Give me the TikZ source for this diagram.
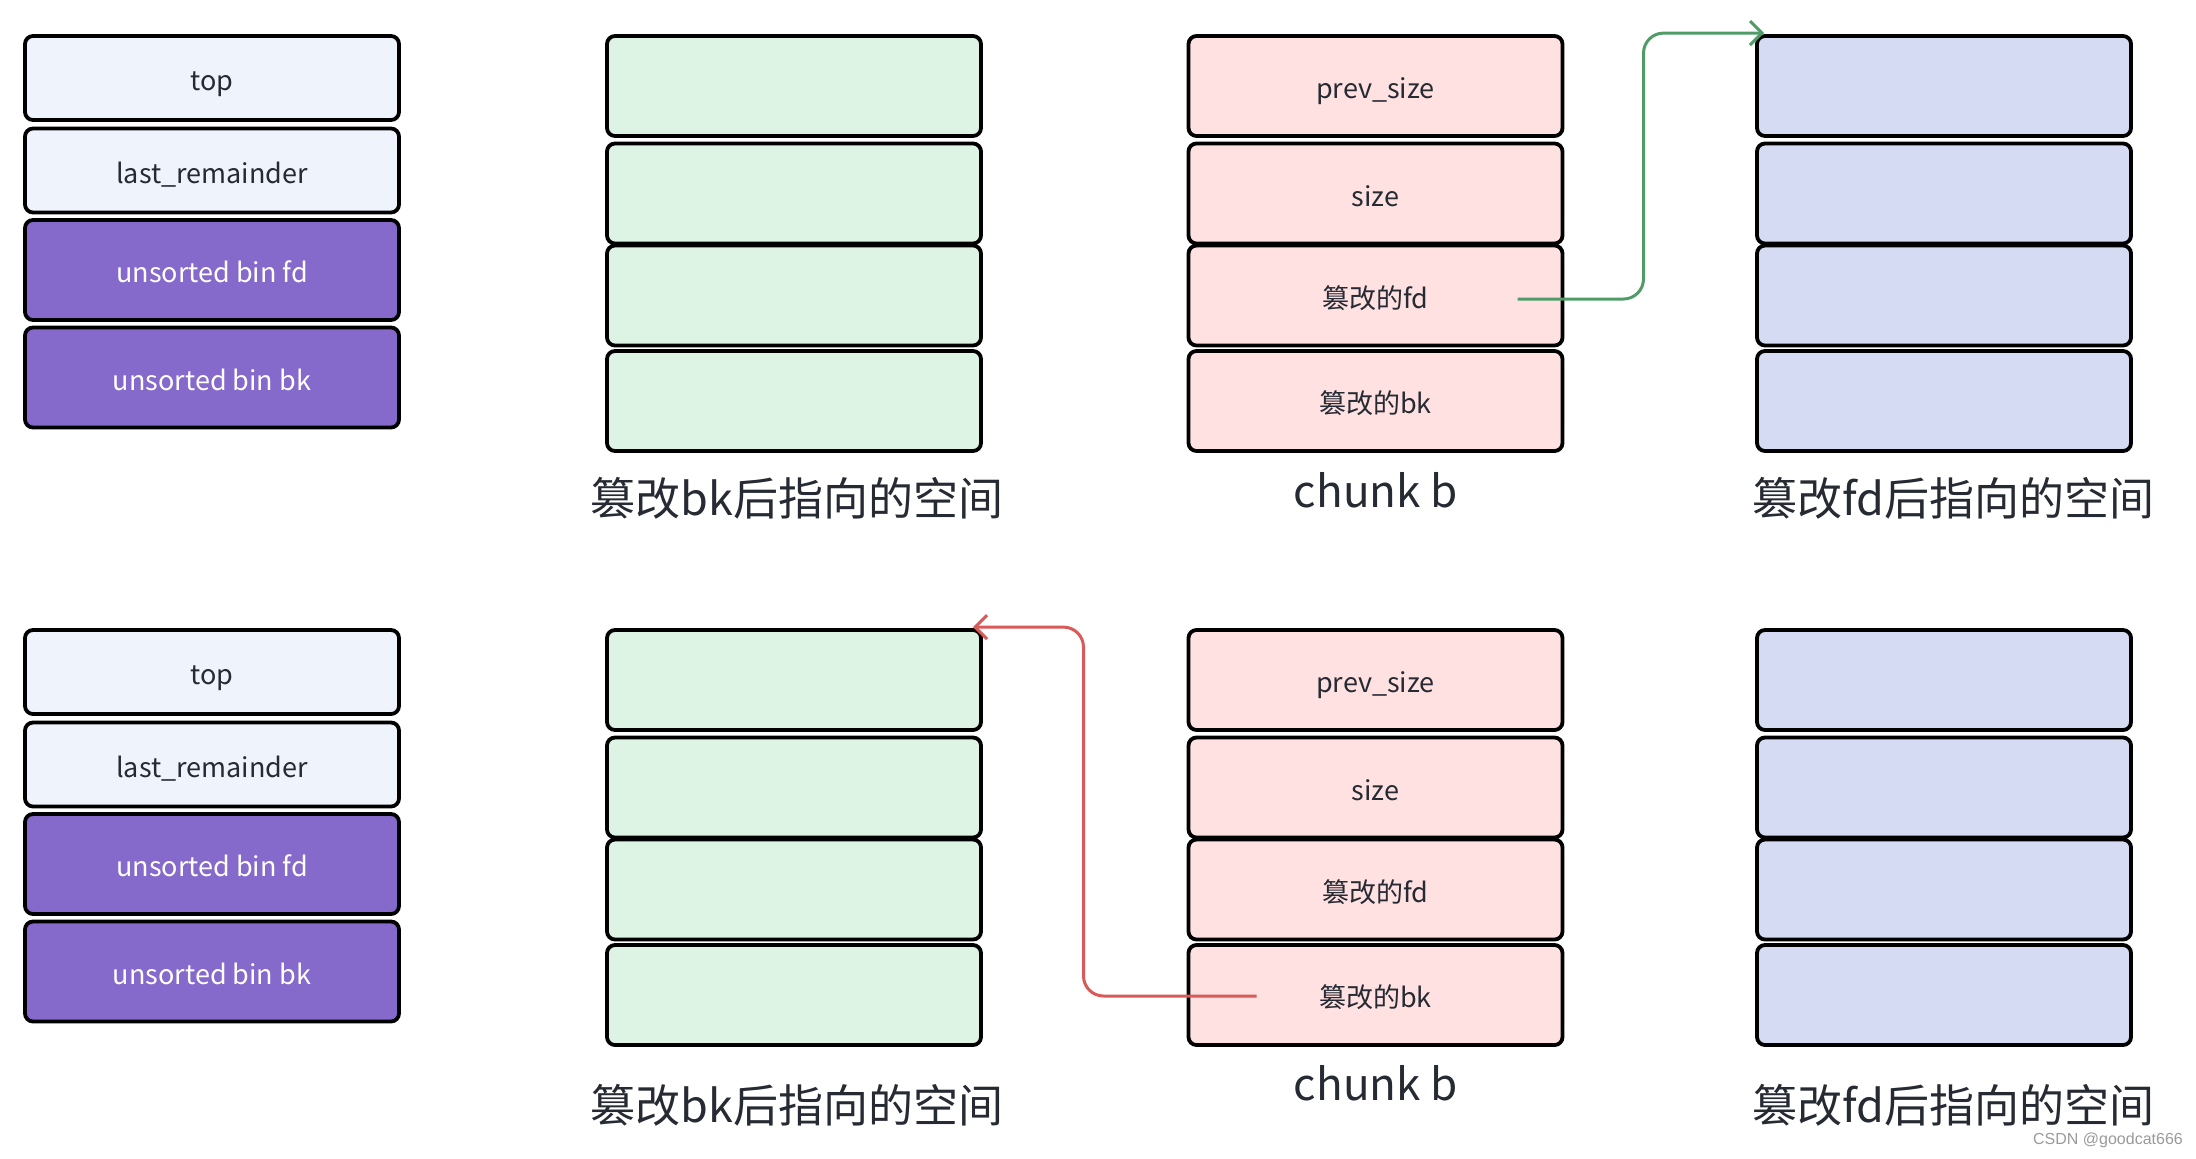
\documentclass[tikz,border=0pt]{standalone}
\usepackage{fontspec}
\setmainfont{Noto Sans CJK SC}
\newfontfamily\markfont{Liberation Sans}
\usetikzlibrary{arrows.meta}
\definecolor{lightcell}{HTML}{EFF3FC}
\definecolor{binpurple}{HTML}{8569CB}
\definecolor{bkgreen}{HTML}{DDF4E4}
\definecolor{chunkpink}{HTML}{FFE1E1}
\definecolor{fdblue}{HTML}{D6DBF4}
\definecolor{celltext}{HTML}{262A33}
\definecolor{fdline}{HTML}{509C68}
\definecolor{bkline}{HTML}{D85A59}
\definecolor{markgrey}{HTML}{9A9A9A}
\tikzset{
  cell/.style={draw=black, line width=1.9pt, rounded corners=4pt, minimum width=187pt,
    minimum height=50pt, inner sep=0pt, text height=12.5pt, text depth=0pt,
    text=celltext, font=\fontsize{13.5pt}{16pt}\selectfont},
  binhead/.style={cell, fill=lightcell, minimum height=42pt},
  binptr/.style={cell, fill=binpurple, text=white},
  bkspace/.style={cell, fill=bkgreen},
  chunk/.style={cell, fill=chunkpink},
  fdspace/.style={cell, fill=fdblue},
  caption/.style={anchor=base, text=celltext, font=\fontsize{22.5pt}{27pt}\selectfont},
  chunkname/.style={caption, font=\fontsize{22pt}{26pt}\selectfont},
  fdptr/.style={draw=fdline, line width=1.5pt, rounded corners=10pt,
    -{Straight Barb[length=6pt,width=12pt]}},
  bkptr/.style={fdptr, draw=bkline},
}

\begin{document}
\begin{tikzpicture}[x=0.5pt, y=-0.5pt]
  \useasboundingbox (0,0) rectangle (2196,1158);

  % unsorted bin, before the fd is forged
  \node[binhead] (topA) at (212,78) {top};
  \node[binhead] (lastA) at (212,170.5) {last\_remainder};
  \node[binptr] (ufdA) at (212,270) {unsorted bin fd};
  \node[binptr] (ubkA) at (212,377.5) {unsorted bin bk};

  % space behind the forged bk
  \node[bkspace] (g1A) at (794,86) {};
  \node[bkspace] (g2A) at (794,193.5) {};
  \node[bkspace] (g3A) at (794,295.5) {};
  \node[bkspace] (g4A) at (794,401) {};
  \node[caption] (gcapA) at (797,515) {篡改bk后指向的空间};

  % chunk b
  \node[chunk] (psA) at (1375.5,86) {prev\_size};
  \node[chunk] (szA) at (1375.5,193.5) {size};
  \node[chunk] (fdA) at (1375.5,295.5) {篡改的fd};
  \node[chunk] (bkA) at (1375.5,401) {篡改的bk};
  \node[chunkname] (ccapA) at (1376,507) {chunk b};

  % space behind the forged fd
  \node[fdspace] (b1A) at (1944,86) {};
  \node[fdspace] (b2A) at (1944,193.5) {};
  \node[fdspace] (b3A) at (1944,295.5) {};
  \node[fdspace] (b4A) at (1944,401) {};
  \node[caption] (bcapA) at (1953,515) {篡改fd后指向的空间};

  % fd goes to the blue space
  \coordinate (fdsrc) at ([xshift=71pt,yshift=-1.75pt]fdA.center);
  \coordinate (fdtip) at ([xshift=4.5pt,yshift=0.5pt]b1A.north west);
  \draw[fdptr] (fdsrc) -- ++(126,0) |- (fdtip);

  % unsorted bin, lower row
  \node[binhead] (topB) at (212,672) {top};
  \node[binhead] (lastB) at (212,764.5) {last\_remainder};
  \node[binptr] (ufdB) at (212,864) {unsorted bin fd};
  \node[binptr] (ubkB) at (212,971.5) {unsorted bin bk};

  \node[bkspace] (g1B) at (794,680) {};
  \node[bkspace] (g2B) at (794,787.5) {};
  \node[bkspace] (g3B) at (794,889.5) {};
  \node[bkspace] (g4B) at (794,995) {};
  \node[caption] (gcapB) at (797,1122) {篡改bk后指向的空间};

  \node[chunk] (psB) at (1375.5,680) {prev\_size};
  \node[chunk] (szB) at (1375.5,787.5) {size};
  \node[chunk] (fdB) at (1375.5,889.5) {篡改的fd};
  \node[chunk] (bkB) at (1375.5,995) {篡改的bk};
  \node[chunkname] (ccapB) at (1376,1100) {chunk b};

  \node[fdspace] (b1B) at (1944,680) {};
  \node[fdspace] (b2B) at (1944,787.5) {};
  \node[fdspace] (b3B) at (1944,889.5) {};
  \node[fdspace] (b4B) at (1944,995) {};
  \node[caption] (bcapB) at (1953,1122) {篡改fd后指向的空间};

  % bk goes back to the green space
  \coordinate (bksrc) at ([xshift=-59.5pt,yshift=-0.5pt]bkB.center);
  \coordinate (bktip) at ([xshift=-5pt,yshift=0.5pt]g1B.north east);
  \draw[bkptr] (bksrc) -- ++(-173,0) |- (bktip);

  \node[text=markgrey, font=\markfont\fontsize{8pt}{9pt}\selectfont] (mark) at (2108,1140) {CSDN @goodcat666};
\end{tikzpicture}
\end{document}
